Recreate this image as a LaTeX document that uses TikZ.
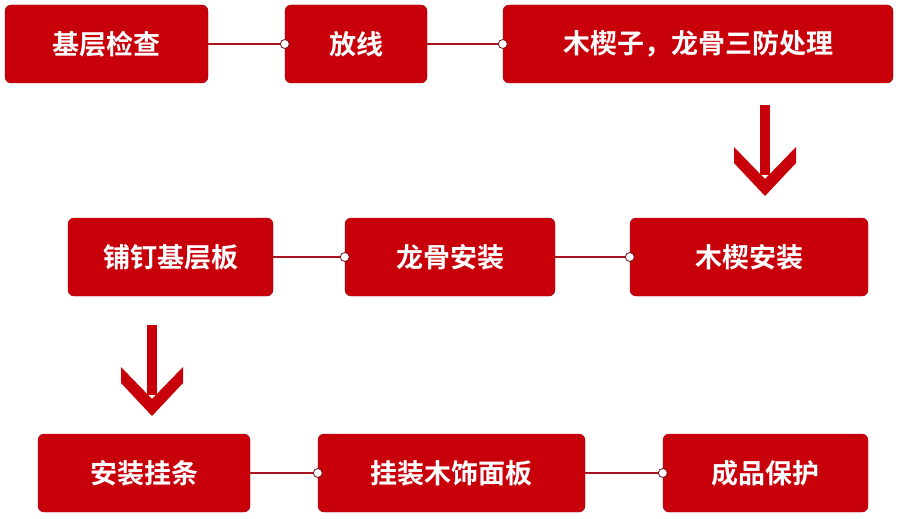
\documentclass[tikz,border=0pt]{standalone}
\usepackage{fontspec}
\newfontfamily\cjk{Noto Sans CJK SC Bold}
\usetikzlibrary{positioning}
\definecolor{boxred}{RGB}{200,0,10}
\definecolor{linered}{RGB}{170,20,30}
\tikzset{
  stepbox/.style={rectangle, rounded corners=6pt, fill=boxred, draw=boxred!80!black,
    text=white, font=\cjk\fontsize{27}{27}\selectfont, minimum height=78pt, inner sep=0pt},
  link/.style={draw=linered, line width=1.2pt},
  knob/.style={circle, draw=linered!70!black, fill=white, line width=0.8pt, minimum size=9pt, inner sep=0pt},
  downarrow/.style={fill=boxred}
}
\begin{document}
\begin{tikzpicture}[x=1pt,y=-1pt]
        \useasboundingbox (0,0) rectangle (900,519);
        % first row
        \node[stepbox, minimum width=203pt] (a1) at (106.5,44) {基层检查};
        \node[stepbox, minimum width=142pt] (a2) at (356,44) {放线};
        \node[stepbox, minimum width=390pt] (a3) at (698,44) {木楔子，龙骨三防处理};
        % second row
        \node[stepbox, minimum width=205pt] (b1) at (170.5,257) {铺钉基层板};
        \node[stepbox, minimum width=210pt] (b2) at (450,257) {龙骨安装};
        \node[stepbox, minimum width=238pt] (b3) at (749,257) {木楔安装};
        % third row
        \node[stepbox, minimum width=212pt] (c1) at (144,473) {安装挂条};
        \node[stepbox, minimum width=267pt] (c2) at (451.5,473) {挂装木饰面板};
        \node[stepbox, minimum width=205pt] (c3) at (765.5,473) {成品保护};
        % connectors
        \foreach \u/\v in {a1/a2, a2/a3, b1/b2, b2/b3, c1/c2, c2/c3}{
          \draw[link] (\u.east) -- (\v.west);
          \node[knob] at (\v.west) {};
        }
        \coordinate (t1) at (765,105);
        \coordinate (t2) at (152,325);
        % arrows
        \foreach \t in {t1, t2}{
          \fill[downarrow] ([xshift=-5pt]\t) rectangle ([xshift=5pt,yshift=-70pt]\t);
          \fill[downarrow] ([xshift=-31pt,yshift=-42pt]\t) -- ([yshift=-74pt]\t) -- ([xshift=31pt,yshift=-42pt]\t)
            -- ([xshift=31pt,yshift=-58pt]\t) -- ([yshift=-91pt]\t) -- ([xshift=-31pt,yshift=-58pt]\t) -- cycle;
        }
\end{tikzpicture}
\end{document}
